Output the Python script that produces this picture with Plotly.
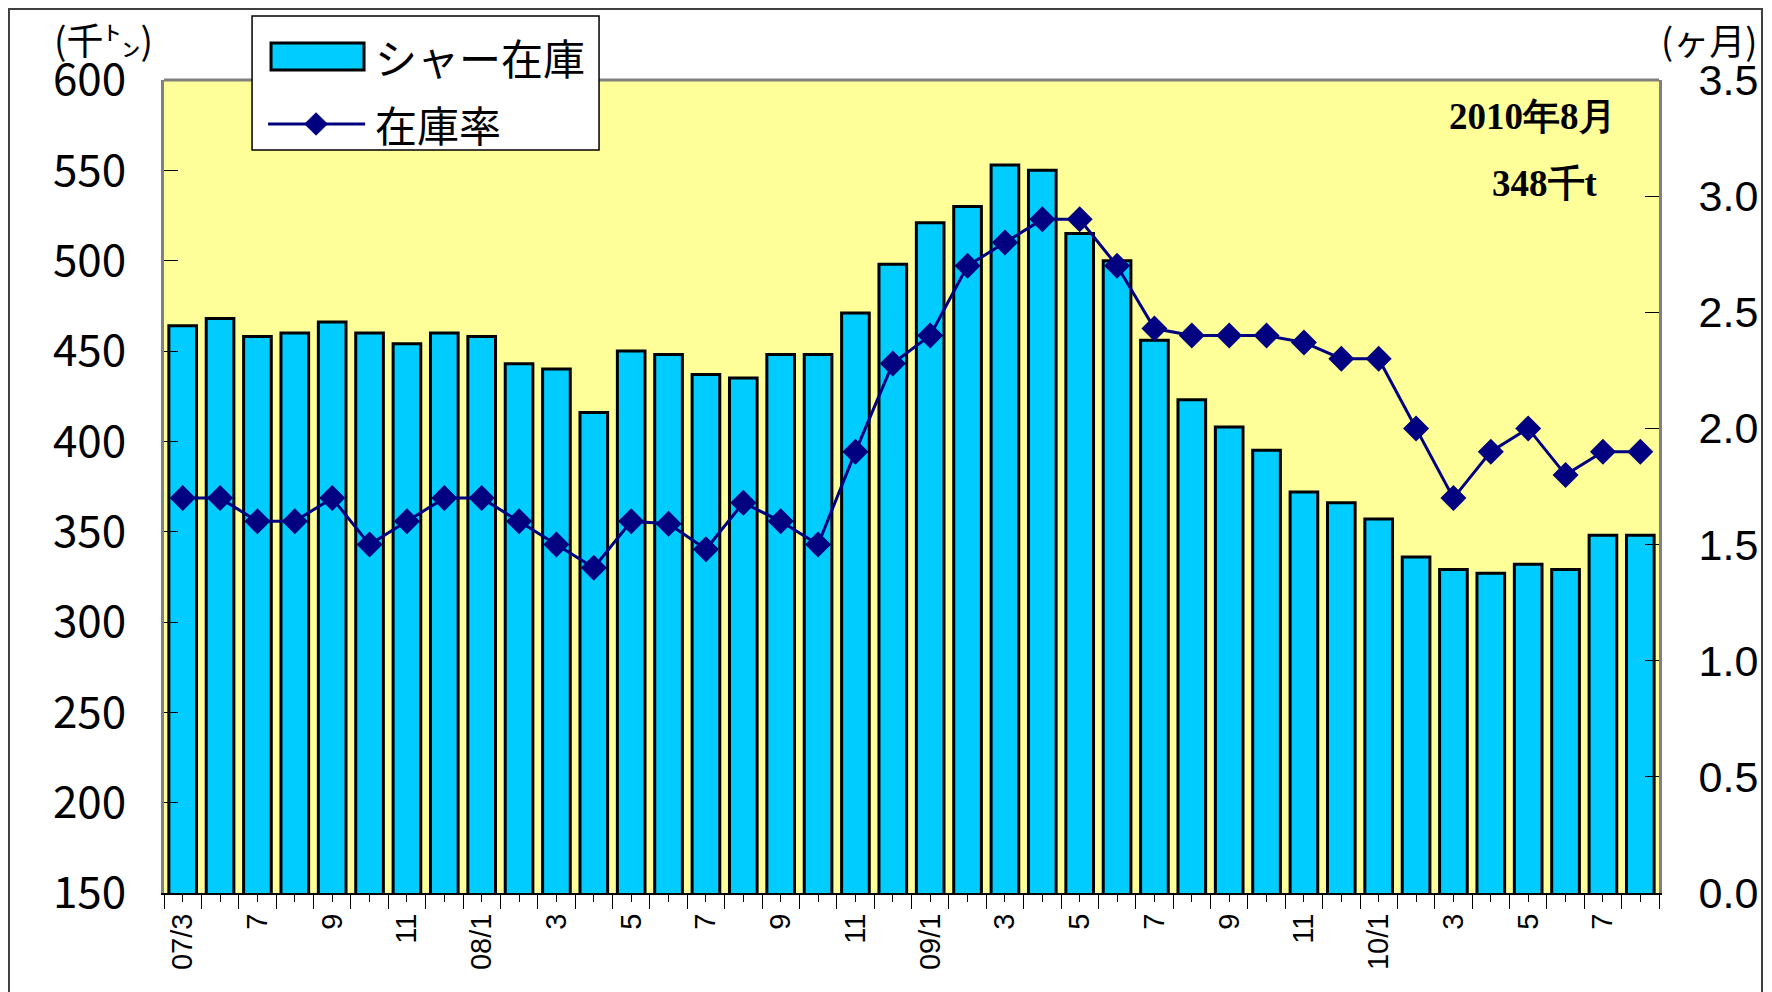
"""Shear inventory chart (bars) with inventory ratio line on a secondary axis."""

import plotly.graph_objects as go

# monthly data, 2007/3 .. 2010/8 as labelled on the original chart
tick_labels = ["07/3", "", "7", "", "9", "", "11", "", "08/1", "",
               "3", "", "5", "", "7", "", "9", "", "11", "",
               "09/1", "", "3", "", "5", "", "7", "", "9", "",
               "11", "", "10/1", "", "3", "", "5", "", "7", ""]
stock = [464, 468, 458, 460, 466, 460, 454, 460, 458, 443,
         440, 416, 450, 448, 437, 435, 448, 448, 471, 498,
         521, 530, 553, 550, 515, 500, 456, 423, 408, 395,
         372, 366, 357, 336, 329, 327, 332, 329, 348, 348]
ratio = [1.7, 1.7, 1.6, 1.6, 1.7, 1.5, 1.6, 1.7, 1.7, 1.6,
         1.5, 1.4, 1.6, 1.59, 1.48, 1.68, 1.6, 1.5, 1.9, 2.28,
         2.4, 2.7, 2.8, 2.9, 2.9, 2.7, 2.43, 2.4, 2.4, 2.4,
         2.37, 2.3, 2.3, 2.0, 1.7, 1.9, 2.0, 1.8, 1.9, 1.9]

x = list(range(len(stock)))

BAR = "#00CCFF"
NAVY = "#000080"
JP = "Noto Sans CJK JP"
SERIF = "Liberation Serif, Times New Roman"

fig = go.Figure()

fig.add_trace(go.Bar(
    x=x, y=stock, name="シャー在庫",
    marker=dict(color=BAR, line=dict(color="black", width=3)),
    width=0.74,
))

fig.add_trace(go.Scatter(
    x=x, y=ratio, name="在庫率", yaxis="y2",
    mode="lines+markers",
    line=dict(color=NAVY, width=3),
    marker=dict(symbol="diamond", size=20, color=NAVY),
))

# the page body adds an 8px margin, so the figure is 8px smaller to fit the window
fig.update_layout(
    width=1764, height=984,
    margin=dict(l=156, r=113, t=72, b=99),
    paper_bgcolor="white",
    plot_bgcolor="#FFFF99",
    showlegend=False,
    bargap=0.2,
    xaxis=dict(
        range=[-0.5, 39.5],
        tickmode="array", tickvals=x, ticktext=tick_labels,
        tickangle=-90,
        ticks="outside", ticklen=7, tickcolor="black", tickwidth=1,
        minor=dict(tick0=-0.5, dtick=1, ticks="outside", ticklen=14,
                   tickcolor="black", tickwidth=1),
        showline=True, linecolor="black", linewidth=2,
        showgrid=False, zeroline=False,
        tickfont=dict(family="Liberation Sans, Arial", size=29, color="black"),
    ),
    yaxis=dict(
        range=[150, 600], dtick=50,
        ticks="inside", ticklen=14, tickcolor="black",
        showline=True, linecolor="#808080", linewidth=3,
        showgrid=False, zeroline=False,
        ticklabelstandoff=26,
        tickfont=dict(family=JP, size=44, color="black"),
    ),
    yaxis2=dict(
        range=[0, 3.5], dtick=0.5, tickformat=".1f",
        overlaying="y", side="right",
        ticks="inside", ticklen=14, tickcolor="black",
        showline=True, linecolor="#808080", linewidth=3,
        showgrid=False, zeroline=False,
        ticklabelstandoff=28,
        tickfont=dict(family="Liberation Sans, Arial", size=43, color="black"),
    ),
)

# plot frame top edge and outer chart border
fig.add_shape(type="line", xref="paper", yref="paper", x0=0, x1=1, y0=1, y1=1,
              line=dict(color="#808080", width=3))
fig.add_shape(type="rect", xref="paper", yref="paper",
              x0=-0.1037, x1=1.0689, y0=-0.129, y1=1.0873,
              line=dict(color="#404040", width=2))

# custom legend box
fig.add_shape(type="rect", xref="paper", yref="paper",
              x0=0.0589, x1=0.291, y0=0.9139, y1=1.0787,
              line=dict(color="black", width=1.5), fillcolor="white")
fig.add_shape(type="rect", xref="paper", yref="paper",
              x0=0.0716, x1=0.1338, y0=1.0123, y1=1.0455,
              line=dict(color="black", width=3), fillcolor=BAR)
fig.add_shape(type="line", xref="paper", yref="paper",
              x0=0.0696, x1=0.1345, y0=0.9459, y1=0.9459,
              line=dict(color=NAVY, width=3))
cx, cy, dx, dy = 0.1017, 0.9459, 0.0076, 0.0138
fig.add_shape(type="path", xref="paper", yref="paper",
              path=f"M {cx-dx},{cy} L {cx},{cy+dy} L {cx+dx},{cy} L {cx},{cy-dy} Z",
              line=dict(color=NAVY, width=1), fillcolor=NAVY)
fig.add_annotation(text="シャー在庫", xref="paper", yref="paper",
                   x=0.1398, y=1.0295, xanchor="left", yanchor="middle",
                   showarrow=False, font=dict(family=JP, size=42, color="black"))
fig.add_annotation(text="在庫率", xref="paper", yref="paper",
                   x=0.1398, y=0.9459, xanchor="left", yanchor="middle",
                   showarrow=False, font=dict(family=JP, size=42, color="black"))

# axis unit labels
fig.add_annotation(text="(千㌧)", xref="paper", yref="paper",
                   x=-0.0408, y=1.051, xanchor="center", yanchor="middle",
                   showarrow=False, font=dict(family=JP, size=37, color="black"))
fig.add_annotation(text="(ヶ月)", xref="paper", yref="paper",
                   x=1.0334, y=1.051, xanchor="center", yanchor="middle",
                   showarrow=False, font=dict(family=JP, size=36, color="black"))

# latest value note
fig.add_annotation(text="<b>2010年8月</b>", xref="paper", yref="paper",
                   x=0.9157, y=0.9557, xanchor="center", yanchor="middle",
                   showarrow=False, font=dict(family=SERIF, size=37, color="black"))
fig.add_annotation(text="<b>348千t</b>", xref="paper", yref="paper",
                   x=0.9237, y=0.8733, xanchor="center", yanchor="middle",
                   showarrow=False, font=dict(family=SERIF, size=37, color="black"))

fig.write_html("out.html")
